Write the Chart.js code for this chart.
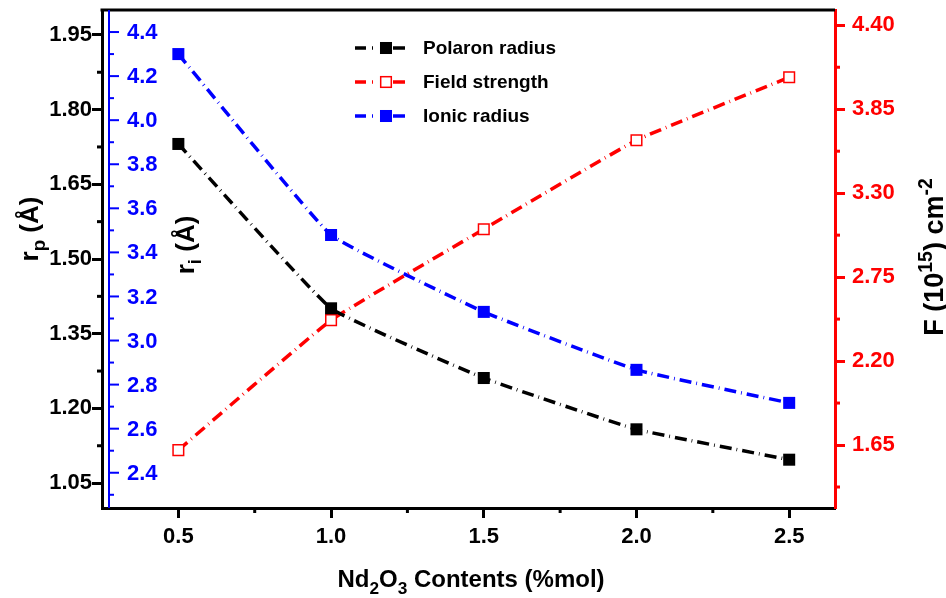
<!DOCTYPE html>
<html>
<head>
<meta charset="utf-8">
<script src="https://cdn.jsdelivr.net/npm/chart.js@4.4.1/dist/chart.umd.min.js"></script>
<style>
  html, body { margin: 0; padding: 0; background: #fff; }
  canvas { display: block; }
</style>
</head>
<body>
<canvas id="chart" width="946" height="598"></canvas>
<script>
// data
const contents = [0.5, 1.0, 1.5, 2.0, 2.5];
const polaronRadius = [1.731, 1.401, 1.261, 1.158, 1.097];
const fieldStrength = [1.617, 2.468, 3.064, 3.647, 4.059];
const ionicRadius = [4.300, 3.479, 3.130, 2.867, 2.717];
const seriesNames = ['Polaron radius', 'Field strength', 'Ionic radius'];

// tick values
const xTicks = [0.5, 1.0, 1.5, 2.0, 2.5];
const xMinor = [0.75, 1.25, 1.75, 2.25];
const rpTicks = [1.05, 1.20, 1.35, 1.50, 1.65, 1.80, 1.95];
const rpMinor = [1.125, 1.275, 1.425, 1.575, 1.725, 1.875];
const riTicks = [2.4, 2.6, 2.8, 3.0, 3.2, 3.4, 3.6, 3.8, 4.0, 4.2, 4.4];
const riMinor = [2.3, 2.5, 2.7, 2.9, 3.1, 3.3, 3.5, 3.7, 3.9, 4.1, 4.3];
const fTicks = [1.65, 2.20, 2.75, 3.30, 3.85, 4.40];
const fMinor = [1.375, 1.925, 2.475, 3.025, 3.575, 4.125];

const FONT = '"Liberation Sans", Arial, sans-serif';
const DASH = [12, 5, 0.8, 5];

function setTicks(list) {
    return function(scale) {
        scale.ticks = list.map(v => ({ value: v }));
    };
}

// no extra room for overhanging labels, the plot box is fixed
function noPad(scale) {
    scale.paddingTop = 0;
    scale.paddingBottom = 0;
    scale.paddingLeft = 0;
    scale.paddingRight = 0;
}

// text with sub/superscripts, centered on x and sitting on baseline y
function drawRich(ctx, parts, x, y, size, rot, color) {
    ctx.save();
    ctx.translate(x, y);
    ctx.rotate(rot);
    ctx.fillStyle = color;
    ctx.textAlign = 'left';
    ctx.textBaseline = 'alphabetic';
    let w = 0;
    parts.forEach(p => {
        ctx.font = 'bold ' + (p.sub || p.sup ? size * 0.72 : size) + 'px ' + FONT;
        w += ctx.measureText(p.t).width;
    });
    let cx = -w / 2;
    parts.forEach(p => {
        const s = p.sub || p.sup ? size * 0.72 : size;
        ctx.font = 'bold ' + s + 'px ' + FONT;
        const dy = p.sub ? size * 0.28 : (p.sup ? -size * 0.42 : 0);
        ctx.fillText(p.t, cx, dy);
        cx += ctx.measureText(p.t).width;
    });
    ctx.restore();
}

function drawMarker(ctx, ds, x, y) {
    const side = ds.pointRadius * Math.SQRT2;
    ctx.save();
    ctx.fillStyle = ds.pointBackgroundColor;
    ctx.fillRect(x - side / 2, y - side / 2, side, side);
    if (ds.pointBorderWidth) {
        ctx.strokeStyle = ds.pointBorderColor;
        ctx.lineWidth = ds.pointBorderWidth;
        ctx.strokeRect(x - side / 2, y - side / 2, side, side);
    }
    ctx.restore();
}

const extras = {
    id: 'extras',
    afterDraw(chart) {
        const ctx = chart.ctx;
        const a = chart.chartArea;
        const sx = chart.scales.x, sp = chart.scales.yP, si = chart.scales.yI, sf = chart.scales.yF;

        ctx.save();
        ctx.lineCap = 'butt';

        // top frame line
        ctx.strokeStyle = '#000';
        ctx.lineWidth = 3;
        ctx.beginPath();
        ctx.moveTo(a.left - 1.5, a.top);
        ctx.lineTo(a.right, a.top);
        ctx.stroke();

        // minor ticks on the library axes
        ctx.lineWidth = 3;
        ctx.strokeStyle = '#000';
        xMinor.forEach(v => {
            const px = sx.getPixelForValue(v);
            ctx.beginPath(); ctx.moveTo(px, a.bottom); ctx.lineTo(px, a.bottom + 5); ctx.stroke();
        });
        rpMinor.forEach(v => {
            const py = sp.getPixelForValue(v);
            ctx.beginPath(); ctx.moveTo(a.left, py); ctx.lineTo(a.left - 5, py); ctx.stroke();
        });
        ctx.strokeStyle = '#ff0000';
        fMinor.forEach(v => {
            const py = sf.getPixelForValue(v);
            ctx.beginPath(); ctx.moveTo(a.right, py); ctx.lineTo(a.right + 5, py); ctx.stroke();
        });

        // inner blue axis for the ionic radius
        const bx = a.left + 7;
        ctx.strokeStyle = '#0000ff';
        ctx.lineWidth = 2;
        ctx.beginPath(); ctx.moveTo(bx, a.top); ctx.lineTo(bx, a.bottom); ctx.stroke();
        riTicks.forEach(v => {
            const py = si.getPixelForValue(v);
            ctx.beginPath(); ctx.moveTo(bx, py); ctx.lineTo(bx + 10, py); ctx.stroke();
        });
        riMinor.forEach(v => {
            const py = si.getPixelForValue(v);
            ctx.beginPath(); ctx.moveTo(bx, py); ctx.lineTo(bx + 5, py); ctx.stroke();
        });
        ctx.fillStyle = '#0000ff';
        ctx.font = 'bold 22px ' + FONT;
        ctx.textAlign = 'left';
        ctx.textBaseline = 'middle';
        riTicks.forEach(v => {
            ctx.fillText(v.toFixed(1), bx + 18, si.getPixelForValue(v) + 1);
        });

        // axis titles
        drawRich(ctx, [{ t: 'r' }, { t: 'p', sub: true }, { t: ' (Å)' }], 38, 229, 26, -Math.PI / 2, '#000');
        drawRich(ctx, [{ t: 'r' }, { t: 'i', sub: true }, { t: ' (Å)' }], 194, 245, 26, -Math.PI / 2, '#000');
        drawRich(ctx, [{ t: 'F (10' }, { t: '15', sup: true }, { t: ') cm' }, { t: '-2', sup: true }], 943, 257, 27, -Math.PI / 2, '#000');
        drawRich(ctx, [{ t: 'Nd' }, { t: '2', sub: true }, { t: 'O' }, { t: '3', sub: true }, { t: ' Contents (%mol)' }], 471, 587, 24, 0, '#000');

        // legend
        const rows = [48, 82, 116];
        chart.data.datasets.forEach((ds, i) => {
            const y = rows[i];
            ctx.strokeStyle = ds.borderColor;
            ctx.lineWidth = 3.5;
            ctx.beginPath();
            ctx.moveTo(355, y); ctx.lineTo(366, y);
            ctx.moveTo(372, y); ctx.lineTo(373, y);
            ctx.moveTo(393, y); ctx.lineTo(405, y);
            ctx.stroke();
            drawMarker(ctx, ds, 386, y);
            ctx.fillStyle = '#000';
            ctx.font = 'bold 19px ' + FONT;
            ctx.textAlign = 'left';
            ctx.textBaseline = 'middle';
            ctx.fillText(ds.label, 423, y + 1);
        });
        ctx.restore();
    }
};

const tickFont = { family: FONT, size: 22, weight: 'bold' };

function series(label, values, axis, color, hollow) {
    return {
        label: label,
        data: contents.map((x, i) => ({ x: x, y: values[i] })),
        yAxisID: axis,
        borderColor: color,
        borderWidth: 3.5,
        borderDash: DASH,
        tension: 0.1,
        pointStyle: 'rect',
        pointRadius: hollow ? 7.5 : 8.5,
        pointBackgroundColor: hollow ? '#ffffff' : color,
        pointBorderColor: color,
        pointBorderWidth: hollow ? 1.5 : 0
    };
}

const config = {
    type: 'line',
    data: {
        datasets: [
            series(seriesNames[0], polaronRadius, 'yP', '#000000', false),
            series(seriesNames[1], fieldStrength, 'yF', '#ff0000', true),
            series(seriesNames[2], ionicRadius, 'yI', '#0000ff', false)
        ]
    },
    options: {
        responsive: false,
        animation: false,
        devicePixelRatio: 1,
        layout: { padding: { top: 10, left: 0, right: 0, bottom: 0 } },
        plugins: {
            legend: { display: false },
            tooltip: { enabled: false }
        },
        elements: { line: { fill: false } },
        scales: {
            x: {
                type: 'linear',
                position: 'bottom',
                min: 0.25,
                max: 2.65,
                afterBuildTicks: setTicks(xTicks),
                afterFit: s => { s.height = 90; noPad(s); },
                border: { color: '#000', width: 3 },
                grid: { drawOnChartArea: false, drawTicks: true, tickLength: 10, tickWidth: 3, color: '#000' },
                ticks: {
                    color: '#000', font: tickFont, padding: 6, autoSkip: false, maxRotation: 0,
                    callback: v => Number(v).toFixed(1)
                }
            },
            yP: {
                type: 'linear',
                position: 'left',
                min: 1.0,
                max: 2.0,
                afterBuildTicks: setTicks(rpTicks),
                afterFit: s => { s.width = 102; noPad(s); },
                border: { color: '#000', width: 3 },
                grid: { drawOnChartArea: false, drawTicks: true, tickLength: 10, tickWidth: 3, color: '#000' },
                ticks: {
                    color: '#000', font: tickFont, padding: 0, autoSkip: false,
                    callback: v => Number(v).toFixed(2)
                }
            },
            yF: {
                type: 'linear',
                position: 'right',
                min: 1.2375,
                max: 4.5,
                afterBuildTicks: setTicks(fTicks),
                afterFit: s => { s.width = 111; noPad(s); },
                border: { color: '#ff0000', width: 3 },
                grid: { drawOnChartArea: false, drawTicks: true, tickLength: 10, tickWidth: 3, color: '#ff0000' },
                ticks: {
                    color: '#ff0000', font: tickFont, padding: 7, autoSkip: false,
                    callback: v => Number(v).toFixed(2)
                }
            },
            yI: {
                type: 'linear',
                position: 'left',
                display: false,
                min: 2.24,
                max: 4.5
            }
        }
    },
    plugins: [extras]
};

document.addEventListener('DOMContentLoaded', function() {
    const ctx = document.getElementById('chart').getContext('2d');
    new Chart(ctx, config);
});
</script>
</body>
</html>
